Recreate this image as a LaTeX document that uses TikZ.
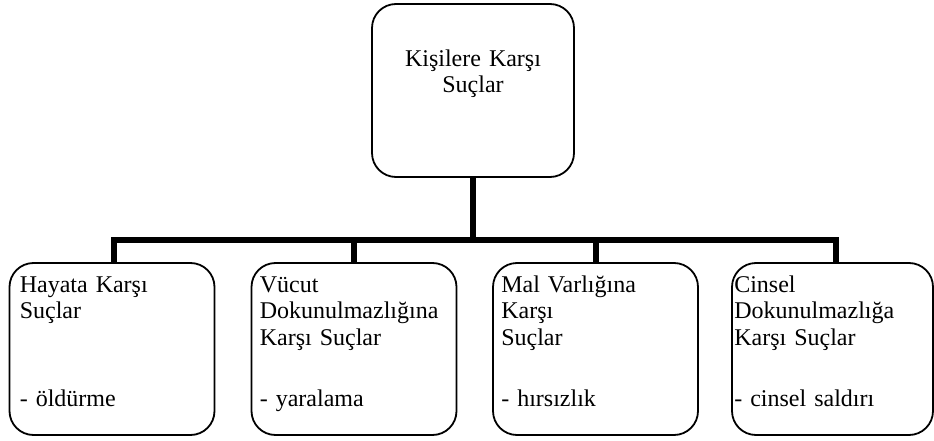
\documentclass[tikz,border=0pt]{standalone}
\usepackage{fontspec}
\setmainfont{Liberation Serif}
\usetikzlibrary{calc}
\begin{document}
\begin{tikzpicture}[x=1pt,y=-1pt,
  box/.style={draw, line width=1.8pt, rounded corners=24pt, inner sep=0pt, minimum width=205pt, minimum height=172pt},
  link/.style={draw, line width=6pt, line join=miter},
  txt/.style={font=\fontsize{24}{26.5}\selectfont, inner sep=0pt, text width=196pt, align=left, anchor=base west},
  toptxt/.style={font=\fontsize{24}{26}\selectfont, inner sep=0pt, text width=200pt, align=center, anchor=base}]
\useasboundingbox (0,0) rectangle (934,441);
% boxes
\node[box, minimum width=202pt, minimum height=173pt] (top) at (473,90.5) {};
\node[box] (b1) at (112,349) {};
\node[box] (b2) at (354,349) {};
\node[box] (b3) at (595.5,349) {};
\node[box, minimum width=201pt] (b4) at (832.5,349) {};
% texts
\node[toptxt] (ttop) at (473,67) {Kişilere Karşı\\Suçlar};
\node[txt] (t1) at ($(b1.north west)+(11,30)$) {Hayata Karşı\\Suçlar};
\node[txt] (i1) at ($(b1.north west)+(11,144)$) {- öldürme};
\node[txt] (t2) at ($(b2.north west)+(9,30)$) {Vücut\\Dokunulmazlığına\\Karşı Suçlar};
\node[txt] (i2) at ($(b2.north west)+(9,144)$) {- yaralama};
\node[txt] (t3) at ($(b3.north west)+(9,30)$) {Mal Varlığına\\Karşı\\Suçlar};
\node[txt] (i3) at ($(b3.north west)+(9,144)$) {- hırsızlık};
\node[txt] (t4) at ($(b4.north west)+(3,30)$) {Cinsel\\Dokunulmazlığa\\Karşı Suçlar};
\node[txt] (i4) at ($(b4.north west)+(3,144)$) {- cinsel saldırı};
% connectors
\coordinate (barL) at (114,239.5);
\coordinate (barR) at (836,239.5);
\draw[link] (top.south) -- (top.south |- barL);
\draw[link] (b1.north -| barL) -- (barL) -- (barR) -- (b4.north -| barR);
\draw[link] (b2.north) -- (b2.north |- barL);
\draw[link] (b3.north) -- (b3.north |- barL);
\end{tikzpicture}
\end{document}
